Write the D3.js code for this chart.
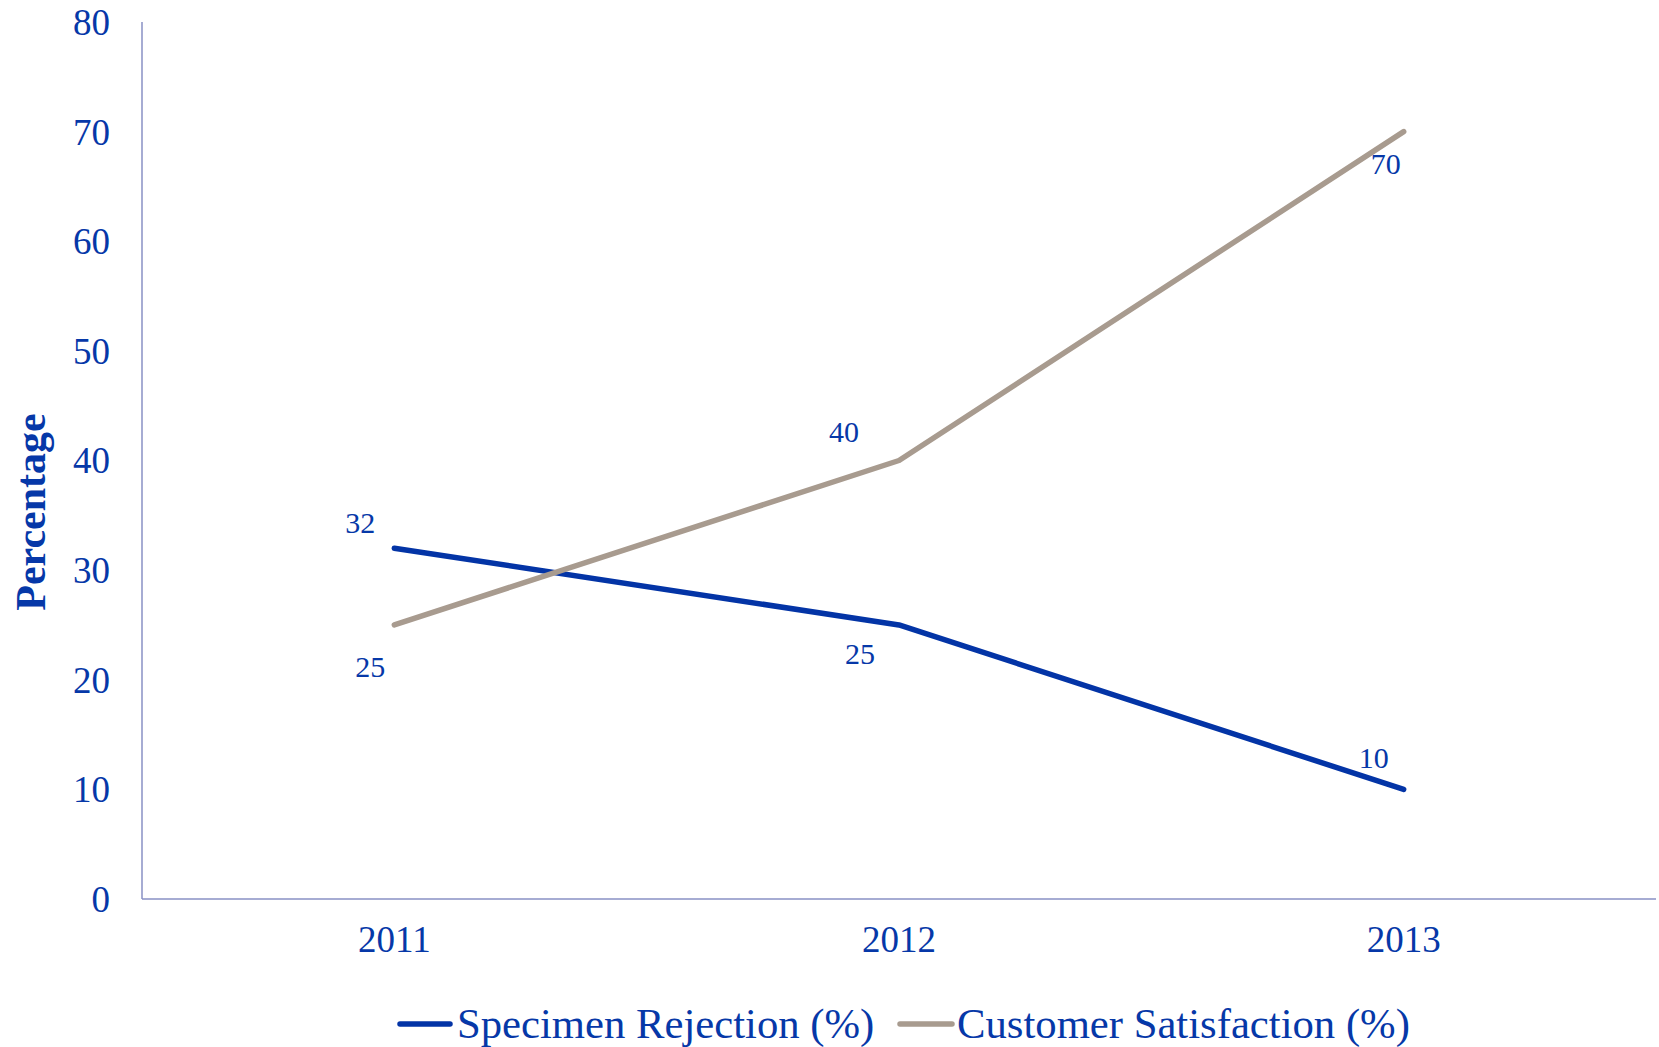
<!DOCTYPE html>
<html><head><meta charset="utf-8">
<script src="https://cdn.jsdelivr.net/npm/d3@7"></script>
<style>body{margin:0;background:#fff}svg{display:block}</style>
</head><body>
<svg id="c" width="1659" height="1047"></svg>
<script>
const years = ["2011", "2012", "2013"];
const specimenRejection = [32, 25, 10];
const customerSatisfaction = [25, 40, 70];
const yTicks = [0, 10, 20, 30, 40, 50, 60, 70, 80];
const seriesNames = ["Specimen Rejection (%)", "Customer Satisfaction (%)"];
const seriesColors = ["#0334a6", "#a89b8f"];
// label offsets (layout only)
const labelOffsets = [
  [[-34, -26], [-39, 29], [-30, -32]],
  [[-24, 42], [-55, -29], [-18, 32]]
];

const textColor = "#0638a8";
const axisColor = "#8890c4";
const font = "'Liberation Serif', 'Times New Roman', serif";

const svg = d3.select("#c");
const mLeft = 142, mRight = 1656, mTop = 22, mBottom = 899;

const x = d3.scaleBand().domain(years).range([mLeft, mRight]);
const y = d3.scaleLinear().domain([0, 80]).range([mBottom, mTop]);
const cx = d => x(d) + x.bandwidth() / 2;

// axes lines
svg.append("line").attr("x1", mLeft).attr("x2", mLeft).attr("y1", mTop).attr("y2", mBottom)
  .attr("stroke", axisColor).attr("stroke-width", 1.5);
svg.append("line").attr("x1", mLeft).attr("x2", mRight).attr("y1", mBottom).attr("y2", mBottom)
  .attr("stroke", axisColor).attr("stroke-width", 1.5);

// y tick labels
svg.append("g").selectAll("text").data(yTicks).join("text")
  .attr("x", 110).attr("y", d => y(d)).attr("dy", "0.35em")
  .attr("text-anchor", "end").attr("fill", textColor)
  .style("font-family", font).style("font-size", "37px").text(d => d);

// x tick labels
svg.append("g").selectAll("text").data(years).join("text")
  .attr("x", d => cx(d)).attr("y", 952)
  .attr("text-anchor", "middle").attr("fill", textColor)
  .style("font-family", font).style("font-size", "37px").text(d => d);

// y axis title
svg.append("text")
  .attr("transform", `translate(45, 512) rotate(-90)`)
  .attr("text-anchor", "middle").attr("fill", textColor)
  .style("font-family", font).style("font-size", "42px").style("font-weight", "bold")
  .text("Percentage");

const series = [specimenRejection, customerSatisfaction];
const line = d3.line().x((d, i) => cx(years[i])).y(d => y(d));

series.forEach((vals, si) => {
  svg.append("path").datum(vals).attr("d", line)
    .attr("fill", "none").attr("stroke", seriesColors[si]).attr("stroke-width", 5.5)
    .attr("stroke-linecap", "round").attr("stroke-linejoin", "round");
});

series.forEach((vals, si) => {
  svg.append("g").selectAll("text").data(vals).join("text")
    .attr("x", (d, i) => cx(years[i]) + labelOffsets[si][i][0])
    .attr("y", (d, i) => y(d) + labelOffsets[si][i][1])
    .attr("dy", "0.35em").attr("text-anchor", "middle").attr("fill", textColor)
    .style("font-family", font).style("font-size", "30px").text(d => d);
});

// legend
const legendItems = [
  { name: seriesNames[0], color: seriesColors[0], x1: 400, x2: 450, tx: 457 },
  { name: seriesNames[1], color: seriesColors[1], x1: 900, x2: 952, tx: 957 }
];
const lg = svg.append("g");
legendItems.forEach(it => {
  lg.append("line").attr("x1", it.x1).attr("x2", it.x2).attr("y1", 1024).attr("y2", 1024)
    .attr("stroke", it.color).attr("stroke-width", 5.5).attr("stroke-linecap", "round");
  lg.append("text").attr("x", it.tx).attr("y", 1038).attr("fill", textColor)
    .style("font-family", font).style("font-size", "42.7px").text(it.name);
});
</script>
</body></html>
